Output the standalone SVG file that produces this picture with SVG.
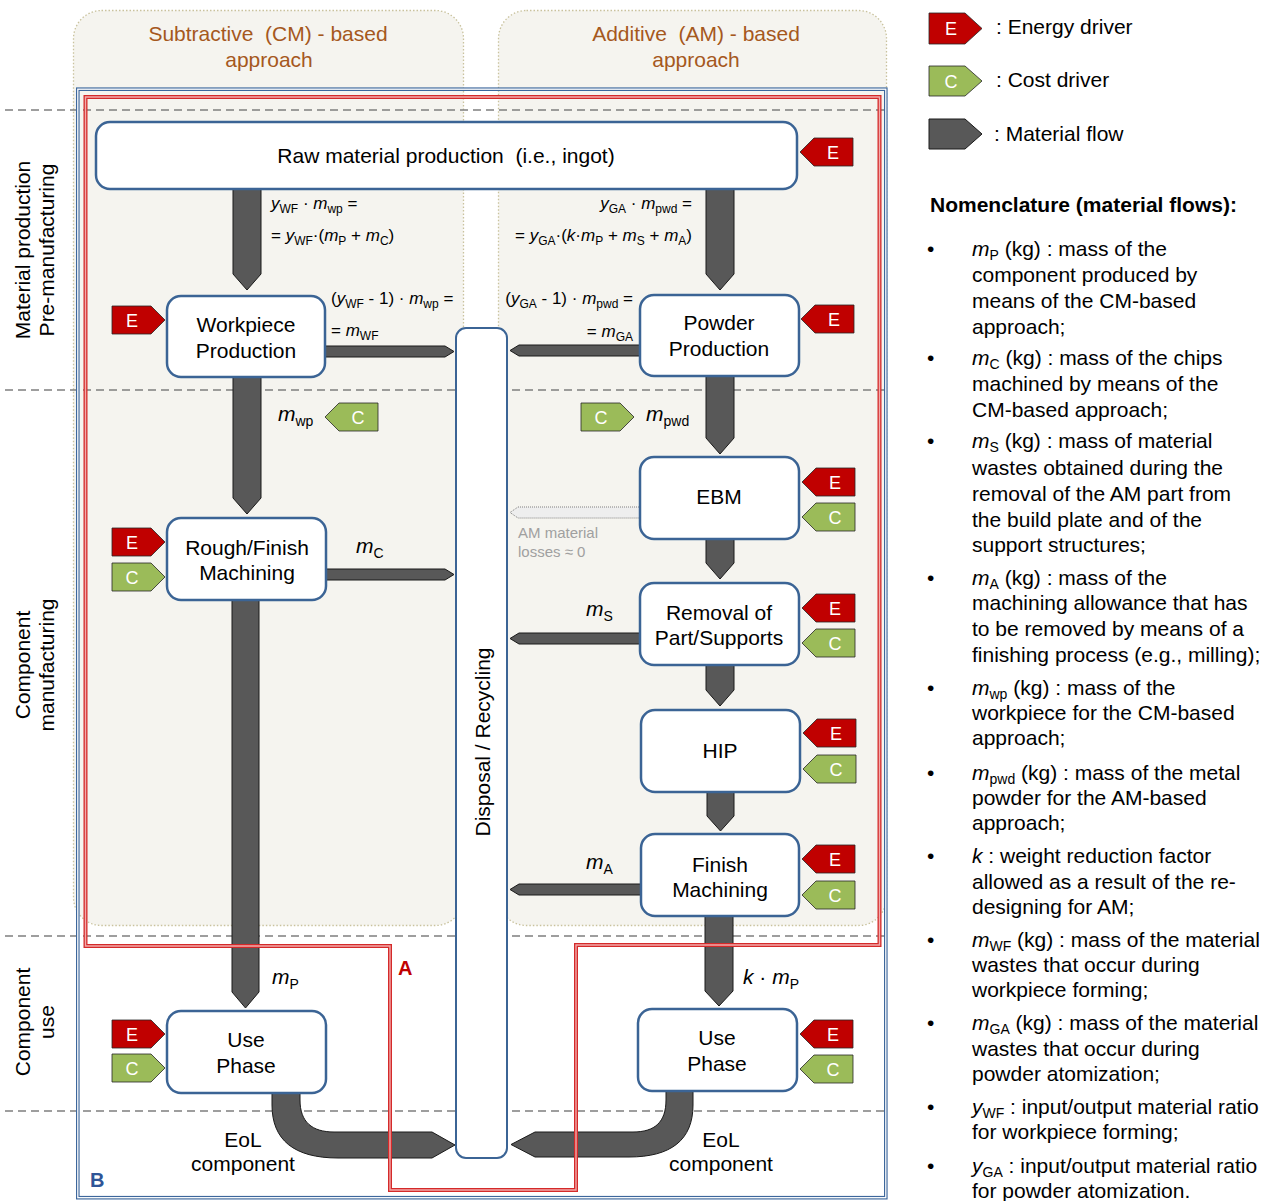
<svg xmlns="http://www.w3.org/2000/svg" width="1279" height="1201" viewBox="0 0 1279 1201">
<style>
text{font-family:"Liberation Sans",Arial,sans-serif;}
.t{font-size:21px;fill:#000}
.c{text-anchor:middle}
.e{text-anchor:end}
.hd{font-size:21px;fill:#a5581d;text-anchor:middle}
.node{fill:#fff;stroke:#3b6495;stroke-width:2.5}
.bar{fill:#fff;stroke:#3b6495;stroke-width:2}
.flow{fill:#585858;stroke:#1a1a1a;stroke-width:1}
.ghost{fill:#eeeeee;stroke:#808080;stroke-width:1;stroke-dasharray:1 1}
.tE{fill:#c00000;stroke:#262626;stroke-width:0.8}
.tC{fill:#9bbb59;stroke:#262626;stroke-width:0.8}
.tl{font-size:18px;fill:#fff;text-anchor:middle}
.dash{stroke:#7f7f7f;stroke-width:1.6;stroke-dasharray:8 5;fill:none}
.col{fill:#f5f4ef;stroke:#c9c29d;stroke-width:1.3;stroke-dasharray:1.5 2}
.f{font-size:17px;fill:#000}
.i{font-style:italic}
.s{font-size:12px}
.s2{font-size:14px}
.gray{font-size:15px;fill:#a0a0a0}
</style>
<defs>
<path id="pr" d="M0,0h39l14,14l-14,14h-39z"/>
<path id="pl" d="M53,0h-39l-14,14l14,14h39z"/>
</defs>
<rect width="1279" height="1201" fill="#fff"/>

<g id="columns">
<rect class="col" x="73.5" y="10.5" width="390" height="915" rx="28"/>
<rect class="col" x="498.5" y="10.5" width="388" height="915" rx="28"/>
<text class="hd" x="268" y="41" xml:space="preserve">Subtractive  (CM) - based</text>
<text class="hd" x="269" y="67">approach</text>
<text class="hd" x="696" y="41" xml:space="preserve">Additive  (AM) - based</text>
<text class="hd" x="696" y="67">approach</text>
</g>

<g id="phases">
<line class="dash" x1="5" y1="110" x2="887" y2="110"/>
<line class="dash" x1="5" y1="390" x2="887" y2="390"/>
<line class="dash" x1="5" y1="936" x2="887" y2="936"/>
<line class="dash" x1="5" y1="1111" x2="887" y2="1111"/>
<text class="t c" transform="translate(30,250) rotate(-90)">Material production</text>
<text class="t c" transform="translate(54,250) rotate(-90)">Pre-manufacturing</text>
<text class="t c" transform="translate(30,665) rotate(-90)">Component</text>
<text class="t c" transform="translate(54,665) rotate(-90)">manufacturing</text>
<text class="t c" transform="translate(30,1022) rotate(-90)">Component</text>
<text class="t c" transform="translate(54,1022) rotate(-90)">use</text>
</g>

<g id="frameB">
<rect x="77.8" y="89.2" width="808" height="1108.5" fill="none" stroke="#3d679c" stroke-width="3.6"/>
<rect x="77.8" y="89.2" width="808" height="1108.5" fill="none" stroke="#fff" stroke-width="1.3"/>
<text x="90" y="1187" font-size="20" font-weight="bold" fill="#2f5597">B</text>
</g>

<g id="connectors">
<path class="flow" d="M233,186H261V274L247,290L233,274Z"/>
<path class="flow" d="M706,186H734V274L720,290L706,274Z"/>
<path class="flow" d="M233,375H261V498L247,514L233,498Z"/>
<path class="flow" d="M706,374H734V438L720,454L706,438Z"/>
<path class="flow" d="M706,537H734V563L720,579L706,563Z"/>
<path class="flow" d="M706,663H734V690L720,706L706,690Z"/>
<path class="flow" d="M707,790H734V816L720.5,831L707,816Z"/>
<path class="flow" d="M705,914H733V991L719,1006L705,991Z"/>
<path class="flow" d="M232,598H259V992L245.5,1008L232,992Z"/>
<path class="flow" d="M323,346H445L454,351.5L445,357H323Z"/>
<path class="flow" d="M324,569H445L454,574.5L445,580H324Z"/>
<path class="flow" d="M642,345H519L510,350.5L519,356H642Z"/>
<path class="flow" d="M642,633H519L510,638.5L519,644H642Z"/>
<path class="flow" d="M642,884H519L510,889.5L519,895H642Z"/>
<path class="ghost" d="M641,507H518L510,512.5L518,518H641Z"/>
<path class="flow" d="M272,1088V1105C272,1140 294,1158 338,1158H432L455,1145L432,1132H334C312,1132 300,1122 300,1100V1088Z"/>
<path class="flow" d="M693,1086V1105C693,1140 671,1157 629,1157H535L511,1144.5L535,1132H633C655,1132 666,1122 666,1100V1086Z"/>
</g>

<g id="labels">
<text class="f" x="271" y="209"><tspan class="i">y</tspan><tspan class="s" dy="4">WF</tspan><tspan dy="-4"> · </tspan><tspan class="i">m</tspan><tspan class="s" dy="4">wp</tspan><tspan dy="-4"> =</tspan></text>
<text class="f" x="271" y="241">= <tspan class="i">y</tspan><tspan class="s" dy="4">WF</tspan><tspan dy="-4">·(</tspan><tspan class="i">m</tspan><tspan class="s" dy="4">P</tspan><tspan dy="-4"> + </tspan><tspan class="i">m</tspan><tspan class="s" dy="4">C</tspan><tspan dy="-4">)</tspan></text>
<text class="f e" x="692" y="209"><tspan class="i">y</tspan><tspan class="s" dy="4">GA</tspan><tspan dy="-4"> · </tspan><tspan class="i">m</tspan><tspan class="s" dy="4">pwd</tspan><tspan dy="-4"> =</tspan></text>
<text class="f e" x="692" y="241">= <tspan class="i">y</tspan><tspan class="s" dy="4">GA</tspan><tspan dy="-4">·(</tspan><tspan class="i">k</tspan><tspan>·</tspan><tspan class="i">m</tspan><tspan class="s" dy="4">P</tspan><tspan dy="-4"> + </tspan><tspan class="i">m</tspan><tspan class="s" dy="4">S</tspan><tspan dy="-4"> + </tspan><tspan class="i">m</tspan><tspan class="s" dy="4">A</tspan><tspan dy="-4">)</tspan></text>
<text class="f" x="331" y="304">(<tspan class="i">y</tspan><tspan class="s" dy="4">WF</tspan><tspan dy="-4"> - 1) · </tspan><tspan class="i">m</tspan><tspan class="s" dy="4">wp</tspan><tspan dy="-4"> =</tspan></text>
<text class="f" x="331" y="336">= <tspan class="i">m</tspan><tspan class="s" dy="4">WF</tspan></text>
<text class="f e" x="633" y="304">(<tspan class="i">y</tspan><tspan class="s" dy="4">GA</tspan><tspan dy="-4"> - 1) · </tspan><tspan class="i">m</tspan><tspan class="s" dy="4">pwd</tspan><tspan dy="-4"> =</tspan></text>
<text class="f e" x="633" y="337">= <tspan class="i">m</tspan><tspan class="s" dy="4">GA</tspan></text>
<text class="t" x="278" y="421"><tspan class="i">m</tspan><tspan class="s2" dy="5">wp</tspan></text>
<text class="t" x="646" y="421"><tspan class="i">m</tspan><tspan class="s2" dy="5">pwd</tspan></text>
<text class="t" x="356" y="553"><tspan class="i">m</tspan><tspan class="s2" dy="5">C</tspan></text>
<text class="t" x="586" y="616"><tspan class="i">m</tspan><tspan class="s2" dy="5">S</tspan></text>
<text class="t" x="586" y="869"><tspan class="i">m</tspan><tspan class="s2" dy="5">A</tspan></text>
<text class="t" x="272" y="984"><tspan class="i">m</tspan><tspan class="s2" dy="5">P</tspan></text>
<text class="t" x="743" y="984"><tspan class="i">k</tspan><tspan> · </tspan><tspan class="i">m</tspan><tspan class="s2" dy="5">P</tspan></text>
<text class="gray" x="518" y="538">AM material</text>
<text class="gray" x="518" y="557">losses ≈ 0</text>
<text class="t c" x="243" y="1147">EoL</text>
<text class="t c" x="243" y="1171">component</text>
<text class="t c" x="721" y="1147">EoL</text>
<text class="t c" x="721" y="1171">component</text>
<use href="#pl" class="tC" x="325" y="403"/><text class="tl" x="358" y="424">C</text>
<use href="#pr" class="tC" x="581" y="403"/><text class="tl" x="601" y="424">C</text>
</g>

<g id="disposal">
<rect class="bar" x="456" y="328" width="51" height="830" rx="10"/>
<text class="t c" transform="translate(490,742) rotate(-90)">Disposal / Recycling</text>
</g>

<g id="raw">
<rect class="node" x="96" y="122" width="701" height="67" rx="14"/>
<text class="t c" x="446" y="163" xml:space="preserve">Raw material production  (i.e., ingot)</text>
<use href="#pl" class="tE" x="800" y="138"/><text class="tl" x="833" y="159">E</text>
</g>

<g id="workpiece">
<rect class="node" x="167" y="296" width="158" height="81" rx="14"/>
<text class="t c" x="246" y="332">Workpiece</text>
<text class="t c" x="246" y="358">Production</text>
<use href="#pr" class="tE" x="112" y="306"/><text class="tl" x="132" y="327">E</text>
</g>

<g id="rough">
<rect class="node" x="167" y="518" width="159" height="82" rx="14"/>
<text class="t c" x="247" y="555">Rough/Finish</text>
<text class="t c" x="247" y="580">Machining</text>
<use href="#pr" class="tE" x="112" y="528"/><text class="tl" x="132" y="549">E</text>
<use href="#pr" class="tC" x="112" y="563"/><text class="tl" x="132" y="584">C</text>
</g>

<g id="useCM">
<rect class="node" x="167" y="1011" width="159" height="82" rx="14"/>
<text class="t c" x="246" y="1047">Use</text>
<text class="t c" x="246" y="1073">Phase</text>
<use href="#pr" class="tE" x="112" y="1020"/><text class="tl" x="132" y="1041">E</text>
<use href="#pr" class="tC" x="112" y="1054"/><text class="tl" x="132" y="1075">C</text>
</g>

<g id="powder">
<rect class="node" x="640" y="295" width="159" height="81" rx="14"/>
<text class="t c" x="719" y="330">Powder</text>
<text class="t c" x="719" y="356">Production</text>
<use href="#pl" class="tE" x="801" y="305"/><text class="tl" x="834" y="326">E</text>
</g>

<g id="ebm">
<rect class="node" x="640" y="457" width="159" height="82" rx="14"/>
<text class="t c" x="719" y="504">EBM</text>
<use href="#pl" class="tE" x="802" y="468"/><text class="tl" x="835" y="489">E</text>
<use href="#pl" class="tC" x="802" y="503"/><text class="tl" x="835" y="524">C</text>
</g>

<g id="removal">
<rect class="node" x="640" y="583" width="159" height="82" rx="14"/>
<text class="t c" x="719" y="620">Removal of</text>
<text class="t c" x="719" y="645">Part/Supports</text>
<use href="#pl" class="tE" x="802" y="594"/><text class="tl" x="835" y="615">E</text>
<use href="#pl" class="tC" x="802" y="629"/><text class="tl" x="835" y="650">C</text>
</g>

<g id="hip">
<rect class="node" x="641" y="710" width="159" height="82" rx="14"/>
<text class="t c" x="720" y="758">HIP</text>
<use href="#pl" class="tE" x="803" y="719"/><text class="tl" x="836" y="740">E</text>
<use href="#pl" class="tC" x="803" y="755"/><text class="tl" x="836" y="776">C</text>
</g>

<g id="finish">
<rect class="node" x="641" y="834" width="158" height="82" rx="14"/>
<text class="t c" x="720" y="872">Finish</text>
<text class="t c" x="720" y="897">Machining</text>
<use href="#pl" class="tE" x="802" y="845"/><text class="tl" x="835" y="866">E</text>
<use href="#pl" class="tC" x="802" y="881"/><text class="tl" x="835" y="902">C</text>
</g>

<g id="useAM">
<rect class="node" x="638" y="1009" width="159" height="82" rx="14"/>
<text class="t c" x="717" y="1045">Use</text>
<text class="t c" x="717" y="1071">Phase</text>
<use href="#pl" class="tE" x="800" y="1020"/><text class="tl" x="833" y="1041">E</text>
<use href="#pl" class="tC" x="800" y="1055"/><text class="tl" x="833" y="1076">C</text>
</g>

<g id="frameA">
<path d="M85.5,97H879.5V945H576V1190H390V946H85.5Z" fill="none" stroke="#d42a2a" stroke-width="4"/>
<path d="M85.5,97H879.5V945H576V1190H390V946H85.5Z" fill="none" stroke="#f2aaaa" stroke-width="1.4"/>
<text x="398" y="975" font-size="20" font-weight="bold" fill="#c00000">A</text>
</g>

<g id="legend">
<path class="tE" d="M929,13H965L982,28.5L965,44H929Z"/><text class="tl" x="951" y="35">E</text>
<text class="t" x="996" y="34">: Energy driver</text>
<path class="tC" d="M929,66H965L982,81L965,96H929Z"/><text class="tl" x="951" y="88">C</text>
<text class="t" x="996" y="87">: Cost driver</text>
<path class="flow" d="M929,119H965L982,134L965,149H929Z"/>
<text class="t" x="994" y="141">: Material flow</text>
</g>

<g id="nomenclature">
<text class="t" x="930" y="212" font-weight="bold">Nomenclature (material flows):</text>
<g class="t">
<text class="t" x="927" y="256">•</text>
<text class="t" x="972" y="256"><tspan class="i">m</tspan><tspan class="s2" dy="4">P</tspan><tspan dy="-4"> (kg) : mass of the</tspan></text>
<text class="t" x="972" y="282">component  produced  by</text>
<text class="t" x="972" y="308">means  of the CM-based</text>
<text class="t" x="972" y="334">approach;</text>
<text class="t" x="927" y="365">•</text>
<text class="t" x="972" y="365"><tspan class="i">m</tspan><tspan class="s2" dy="4">C</tspan><tspan dy="-4"> (kg) : mass of the chips</tspan></text>
<text class="t" x="972" y="391">machined  by means  of the</text>
<text class="t" x="972" y="417">CM-based  approach;</text>
<text class="t" x="927" y="448">•</text>
<text class="t" x="972" y="448"><tspan class="i">m</tspan><tspan class="s2" dy="4">S</tspan><tspan dy="-4"> (kg) : mass of material</tspan></text>
<text class="t" x="972" y="475">wastes  obtained  during  the</text>
<text class="t" x="972" y="501">removal of the AM part from</text>
<text class="t" x="972" y="527">the build  plate and of the</text>
<text class="t" x="972" y="552">support  structures;</text>
<text class="t" x="927" y="585">•</text>
<text class="t" x="972" y="585"><tspan class="i">m</tspan><tspan class="s2" dy="4">A</tspan><tspan dy="-4"> (kg) : mass of the</tspan></text>
<text class="t" x="972" y="610">machining  allowance  that has</text>
<text class="t" x="972" y="636">to be removed by means of a</text>
<text class="t" x="972" y="662">finishing process (e.g., milling);</text>
<text class="t" x="927" y="695">•</text>
<text class="t" x="972" y="695"><tspan class="i">m</tspan><tspan class="s2" dy="4">wp</tspan><tspan dy="-4"> (kg) : mass of the</tspan></text>
<text class="t" x="972" y="720">workpiece  for the CM-based</text>
<text class="t" x="972" y="745">approach;</text>
<text class="t" x="927" y="780">•</text>
<text class="t" x="972" y="780"><tspan class="i">m</tspan><tspan class="s2" dy="4">pwd</tspan><tspan dy="-4"> (kg) : mass of the metal</tspan></text>
<text class="t" x="972" y="805">powder  for the AM-based</text>
<text class="t" x="972" y="830">approach;</text>
<text class="t" x="927" y="863">•</text>
<text class="t" x="972" y="863"><tspan class="i">k</tspan> : weight  reduction  factor</text>
<text class="t" x="972" y="889">allowed  as a result of the re-</text>
<text class="t" x="972" y="914">designing  for AM;</text>
<text class="t" x="927" y="947">•</text>
<text class="t" x="972" y="947"><tspan class="i">m</tspan><tspan class="s2" dy="4">WF</tspan><tspan dy="-4"> (kg) : mass of the material</tspan></text>
<text class="t" x="972" y="972">wastes  that occur during</text>
<text class="t" x="972" y="997">workpiece  forming;</text>
<text class="t" x="927" y="1030">•</text>
<text class="t" x="972" y="1030"><tspan class="i">m</tspan><tspan class="s2" dy="4">GA</tspan><tspan dy="-4"> (kg) : mass of the material</tspan></text>
<text class="t" x="972" y="1056">wastes  that occur during</text>
<text class="t" x="972" y="1081">powder  atomization;</text>
<text class="t" x="927" y="1114">•</text>
<text class="t" x="972" y="1114"><tspan class="i">y</tspan><tspan class="s2" dy="4">WF</tspan><tspan dy="-4"> : input/output  material ratio</tspan></text>
<text class="t" x="972" y="1139">for workpiece  forming;</text>
<text class="t" x="927" y="1173">•</text>
<text class="t" x="972" y="1173"><tspan class="i">y</tspan><tspan class="s2" dy="4">GA</tspan><tspan dy="-4"> : input/output  material ratio</tspan></text>
<text class="t" x="972" y="1198">for powder  atomization.</text>
</g>
</g>
</svg>
